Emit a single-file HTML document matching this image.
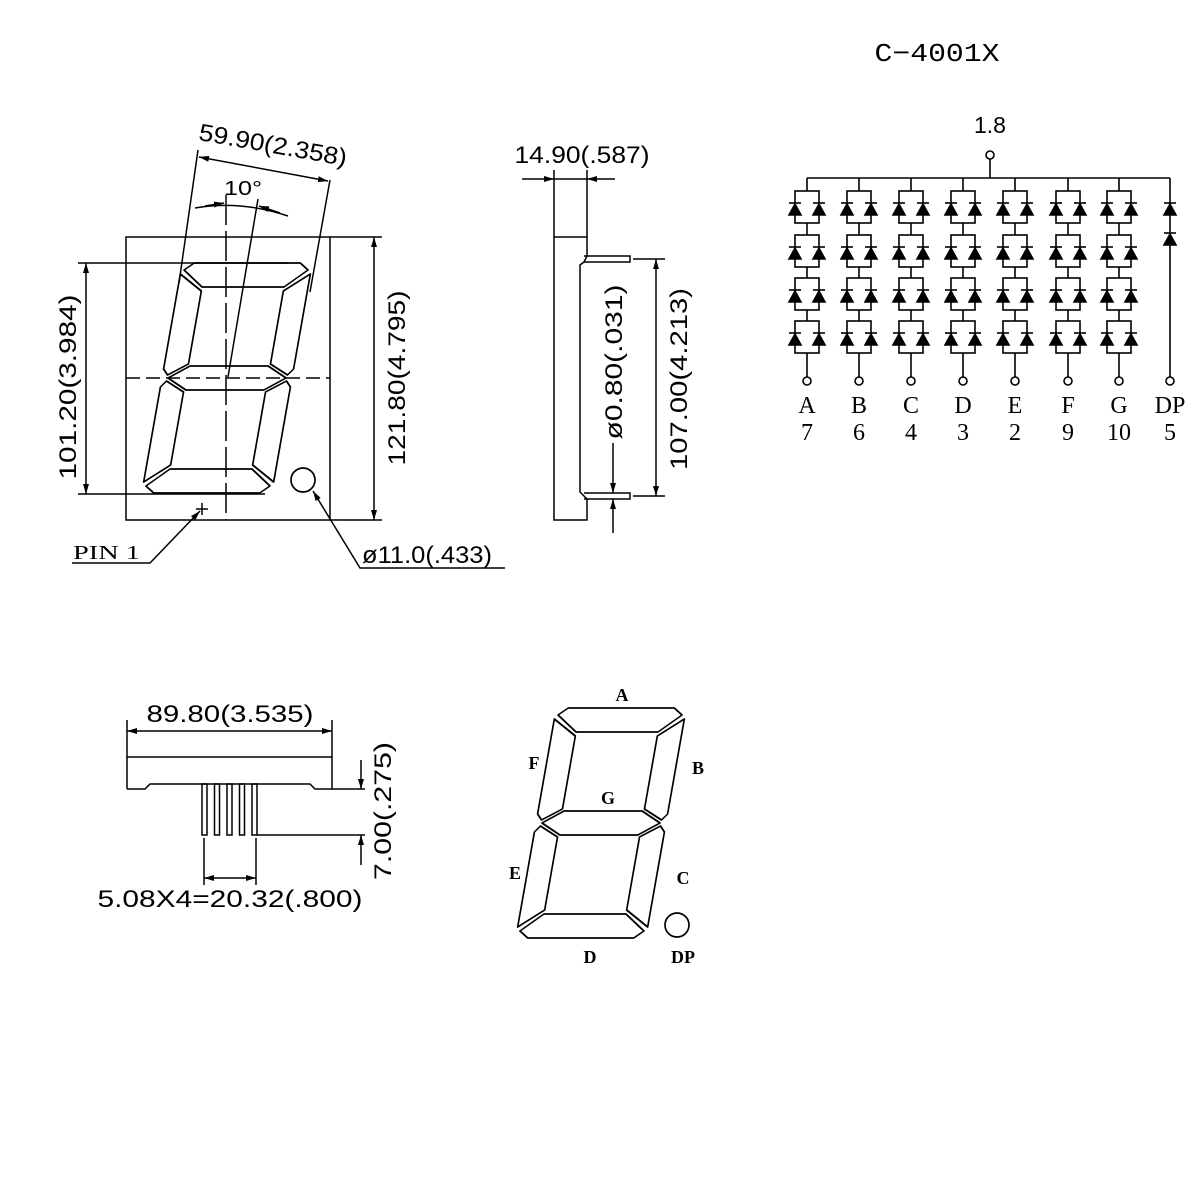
<!DOCTYPE html>
<html><head><meta charset="utf-8"><style>
html,body{margin:0;padding:0;background:#fff;}
svg{display:block;}
.s{font-family:"Liberation Sans",sans-serif;}
.r{font-family:"Liberation Serif",serif;}
</style></head><body>
<svg width="1200" height="1200" viewBox="0 0 1200 1200" xmlns="http://www.w3.org/2000/svg">
<defs>
<marker id="ar" viewBox="0 0 10 6" refX="10" refY="3" markerWidth="10" markerHeight="6" markerUnits="userSpaceOnUse" orient="auto-start-reverse">
<path d="M0,0 L10,3 L0,6 z" fill="#000"/></marker>
<g id="segA"><polygon points="174,263 280,263 289,270 268,287 186,287 165,270"/></g>
<g id="segF"><polygon points="162,274 186,291 186,364 167,375 162,369"/></g>
<g id="segG"><polygon points="168,378 188,366 266,366 286,378 266,390 188,390"/></g>
<g id="digit" fill="none" stroke="#000" stroke-width="1.7" stroke-linejoin="round">
<g transform="translate(0,378) skewX(-10) translate(0,-378)">
<use href="#segA"/>
<use href="#segA" transform="translate(0,756) scale(1,-1)"/>
<use href="#segF"/>
<use href="#segF" transform="translate(454,0) scale(-1,1)"/>
<use href="#segF" transform="translate(0,756) scale(1,-1)"/>
<use href="#segF" transform="translate(454,756) scale(-1,-1)"/>
<use href="#segG"/>
</g>
<circle cx="303" cy="480" r="12"/>
</g>
<g id="dg" stroke="#000" stroke-width="1.6" fill="none">
<rect x="-12" y="0" width="24" height="32"/>
<polygon points="-18,24 -6,24 -12,13" fill="#000"/>
<polygon points="6,24 18,24 12,13" fill="#000"/>
<line x1="-18" y1="12" x2="-6" y2="12"/>
<line x1="6" y1="12" x2="18" y2="12"/>
</g>
<g id="col" stroke="#000" stroke-width="1.6" fill="none">
<line x1="0" y1="178" x2="0" y2="191"/>
<use href="#dg" y="191"/>
<line x1="0" y1="223" x2="0" y2="235"/>
<use href="#dg" y="235"/>
<line x1="0" y1="267" x2="0" y2="278"/>
<use href="#dg" y="278"/>
<line x1="0" y1="310" x2="0" y2="321"/>
<use href="#dg" y="321"/>
<line x1="0" y1="353" x2="0" y2="377"/>
<circle cx="0" cy="381" r="4" fill="#fff"/>
</g>
</defs>

<!-- FRONT VIEW -->
<g stroke="#000" stroke-width="1.5" fill="none">
<rect x="126" y="237" width="204" height="283"/>
<line x1="330" y1="237" x2="382" y2="237"/>
<line x1="330" y1="520" x2="382" y2="520"/>
<line x1="374" y1="237" x2="374" y2="520" marker-start="url(#ar)" marker-end="url(#ar)"/>
<line x1="78" y1="263" x2="288" y2="263"/>
<line x1="78" y1="494" x2="265" y2="494"/>
<line x1="86" y1="263" x2="86" y2="494" marker-start="url(#ar)" marker-end="url(#ar)"/>
<line x1="126" y1="378" x2="330" y2="378" stroke-dasharray="14,6"/>
<line x1="226" y1="195" x2="226" y2="520" stroke-dasharray="30,6"/>
<line x1="258" y1="199" x2="228" y2="377"/>
<line x1="198" y1="150" x2="179" y2="283"/>
<line x1="330" y1="180" x2="310" y2="292"/>
<line x1="199" y1="157" x2="328" y2="181" marker-start="url(#ar)" marker-end="url(#ar)"/>
<path d="M195,208 Q240,200 288,216"/>
<path d="M205,206 L224,203" marker-end="url(#ar)"/>
<path d="M280,213 L259,206" marker-end="url(#ar)"/>
<line x1="196" y1="509" x2="208" y2="509"/>
<line x1="202" y1="503" x2="202" y2="515"/>
<polyline points="72,563 150,563 200,511" marker-end="url(#ar)"/>
<polyline points="505,568 360,568 313,491" marker-end="url(#ar)"/>
</g>
<use href="#digit"/>
<text class="s" x="273" y="153" font-size="24" text-anchor="middle" textLength="150" lengthAdjust="spacingAndGlyphs" transform="rotate(10 273 145)">59.90(2.358)</text>
<text class="s" x="243" y="195" font-size="20" text-anchor="middle" textLength="38" lengthAdjust="spacingAndGlyphs">10°</text>
<text class="s" font-size="24" text-anchor="middle" textLength="185" lengthAdjust="spacingAndGlyphs" transform="translate(76,387) rotate(-90)">101.20(3.984)</text>
<text class="s" font-size="24" text-anchor="middle" textLength="175" lengthAdjust="spacingAndGlyphs" transform="translate(405,378) rotate(-90)">121.80(4.795)</text>
<text class="r" x="73" y="559" font-size="20" textLength="67" lengthAdjust="spacingAndGlyphs">PIN  1</text>
<text class="s" x="362" y="563" font-size="24" textLength="130" lengthAdjust="spacingAndGlyphs">ø11.0(.433)</text>

<!-- SIDE VIEW -->
<g stroke="#000" stroke-width="1.5" fill="none">
<polyline points="587,256 587,237 554,237 554,520 587,520 587,499"/>
<polyline points="587,256 584,262 580,265 580,492 584,496 587,499"/>
<polyline points="584,256 630,256 630,262 584,262"/>
<polyline points="584,493 630,493 630,499 584,499"/>
<line x1="554" y1="170" x2="554" y2="237"/>
<line x1="587" y1="170" x2="587" y2="237"/>
<line x1="522" y1="179" x2="554" y2="179" marker-end="url(#ar)"/>
<line x1="615" y1="179" x2="587" y2="179" marker-end="url(#ar)"/>
<line x1="554" y1="179" x2="587" y2="179"/>
<line x1="633" y1="259" x2="665" y2="259"/>
<line x1="633" y1="496" x2="665" y2="496"/>
<line x1="656" y1="259" x2="656" y2="496" marker-start="url(#ar)" marker-end="url(#ar)"/>
<line x1="613" y1="443" x2="613" y2="493" marker-end="url(#ar)"/>
<line x1="613" y1="533" x2="613" y2="499" marker-end="url(#ar)"/>
</g>
<text class="s" x="582" y="163" font-size="24" text-anchor="middle" textLength="135" lengthAdjust="spacingAndGlyphs">14.90(.587)</text>
<text class="s" font-size="24" text-anchor="middle" textLength="155" lengthAdjust="spacingAndGlyphs" transform="translate(622,362) rotate(-90)">ø0.80(.031)</text>
<text class="s" font-size="24" text-anchor="middle" textLength="182" lengthAdjust="spacingAndGlyphs" transform="translate(687,379) rotate(-90)">107.00(4.213)</text>

<!-- BOTTOM VIEW -->
<g stroke="#000" stroke-width="1.5" fill="none">
<polyline points="127,789 127,757 332,757 332,789 315,789 310,784 150,784 145,789 127,789"/>
<rect x="202" y="784" width="5" height="51"/>
<rect x="214.5" y="784" width="5" height="51"/>
<rect x="227" y="784" width="5" height="51"/>
<rect x="239.5" y="784" width="5" height="51"/>
<rect x="252" y="784" width="5" height="51"/>
<line x1="127" y1="720" x2="127" y2="757"/>
<line x1="332" y1="720" x2="332" y2="757"/>
<line x1="127" y1="731" x2="332" y2="731" marker-start="url(#ar)" marker-end="url(#ar)"/>
<line x1="332" y1="789" x2="365" y2="789"/>
<line x1="257" y1="835" x2="365" y2="835"/>
<line x1="361" y1="760" x2="361" y2="789" marker-end="url(#ar)"/>
<line x1="361" y1="865" x2="361" y2="835" marker-end="url(#ar)"/>
<line x1="204" y1="838" x2="204" y2="885"/>
<line x1="256" y1="838" x2="256" y2="885"/>
<line x1="204" y1="878" x2="256" y2="878" marker-start="url(#ar)" marker-end="url(#ar)"/>
</g>
<text class="s" x="230" y="722" font-size="24" text-anchor="middle" textLength="167" lengthAdjust="spacingAndGlyphs">89.80(3.535)</text>
<text class="s" font-size="24" text-anchor="middle" textLength="138" lengthAdjust="spacingAndGlyphs" transform="translate(391,811) rotate(-90)">7.00(.275)</text>
<text class="s" x="230" y="907" font-size="24" text-anchor="middle" textLength="265" lengthAdjust="spacingAndGlyphs">5.08X4=20.32(.800)</text>

<!-- SEGMENT DIAGRAM -->
<use href="#digit" transform="translate(374,445)"/>
<g class="r" font-size="18" font-weight="bold" text-anchor="middle">
<text x="622" y="701">A</text>
<text x="698" y="774">B</text>
<text x="534" y="769">F</text>
<text x="608" y="804">G</text>
<text x="515" y="879">E</text>
<text x="683" y="884">C</text>
<text x="590" y="963">D</text>
<text x="683" y="963">DP</text>
</g>

<!-- CIRCUIT -->
<text x="937" y="61" font-family="Liberation Mono, monospace" font-size="26" text-anchor="middle" textLength="125" lengthAdjust="spacingAndGlyphs">C−4001X</text>
<text class="s" x="990" y="133" font-size="23" text-anchor="middle">1.8</text>
<g stroke="#000" stroke-width="1.6" fill="none">
<line x1="807" y1="178" x2="1170" y2="178"/>
<line x1="990" y1="159" x2="990" y2="178"/>
<circle cx="990" cy="155" r="4" fill="#fff"/>
<line x1="1170" y1="178" x2="1170" y2="377"/>
<circle cx="1170" cy="381" r="4" fill="#fff"/>
<polygon points="1164,215 1176,215 1170,204" fill="#000"/>
<line x1="1164" y1="203" x2="1176" y2="203"/>
<polygon points="1164,245 1176,245 1170,234" fill="#000"/>
<line x1="1164" y1="233" x2="1176" y2="233"/>
</g>
<use href="#col" x="807"/>
<use href="#col" x="859"/>
<use href="#col" x="911"/>
<use href="#col" x="963"/>
<use href="#col" x="1015"/>
<use href="#col" x="1068"/>
<use href="#col" x="1119"/>
<g class="r" font-size="24" text-anchor="middle">
<text x="807" y="413">A</text><text x="807" y="440">7</text>
<text x="859" y="413">B</text><text x="859" y="440">6</text>
<text x="911" y="413">C</text><text x="911" y="440">4</text>
<text x="963" y="413">D</text><text x="963" y="440">3</text>
<text x="1015" y="413">E</text><text x="1015" y="440">2</text>
<text x="1068" y="413">F</text><text x="1068" y="440">9</text>
<text x="1119" y="413">G</text><text x="1119" y="440">10</text>
<text x="1170" y="413">DP</text><text x="1170" y="440">5</text>
</g>
</svg>
</body></html>
